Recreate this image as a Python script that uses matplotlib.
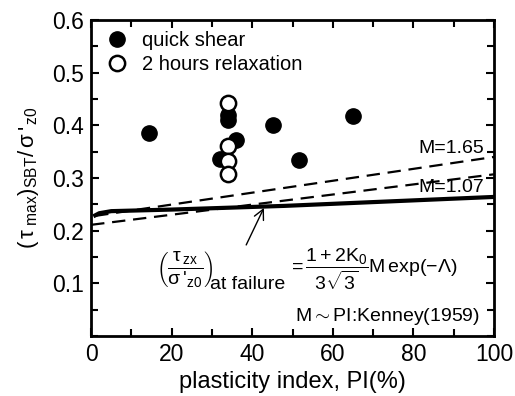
import numpy as np
from matplotlib import pyplot as plt
from matplotlib import rcParams
from matplotlib.ticker import MultipleLocator

rcParams["font.family"] = ["Liberation Sans", "DejaVu Sans"]
rcParams["mathtext.fontset"] = "custom"
rcParams["mathtext.rm"] = "Liberation Sans"
rcParams["mathtext.it"] = "Liberation Sans"
rcParams["mathtext.bf"] = "Liberation Sans:bold"
rcParams["mathtext.sf"] = "Liberation Sans"

# measured strength ratios against plasticity index
pi_quick = [14.4, 34.0, 34.0, 36.0, 32.0, 45.2, 51.6, 65.0]
tau_quick = [0.385, 0.420, 0.410, 0.373, 0.337, 0.400, 0.334, 0.417]

pi_relax = [34.0, 34.0, 34.0, 34.0]
tau_relax = [0.443, 0.360, 0.333, 0.307]

# predicted curves (M from Kenney 1959)
pi_m165 = [1, 100]
tau_m165 = [0.228, 0.340]
pi_m107 = [0, 100]
tau_m107 = [0.211, 0.307]
pi_pred = [1, 2, 5, 20, 48, 100]
tau_pred = [0.229, 0.233, 0.237, 0.240, 0.247, 0.264]

fig = plt.figure(figsize=(5.15, 3.96), dpi=100)
ax = fig.add_axes([0.177, 0.152, 0.782, 0.797])

ax.plot(pi_m165, tau_m165, "k--", lw=1.6, dashes=(6, 3.5))
ax.plot(pi_m107, tau_m107, "k--", lw=1.6, dashes=(6, 3.5))
ax.plot(pi_pred, tau_pred, "k-", lw=3)

ax.plot(pi_quick, tau_quick, "o", color="k", ms=11, label="quick shear")
ax.plot(pi_relax, tau_relax, "o", mfc="white", mec="k", mew=1.8, ms=11,
        label="2 hours relaxation")

ax.text(97.5, 0.357, "M=1.65", ha="right", va="center", fontsize=14)
ax.text(97.5, 0.282, "M=1.07", ha="right", va="center", fontsize=14)

ax.annotate("", xy=(43.2, 0.248), xytext=(38.2, 0.168),
            arrowprops=dict(arrowstyle="->", color="k", lw=1.0,
                            mutation_scale=18))

# failure criterion written in three pieces so "at failure" stays full size
ax.text(16.2, 0.127,
        r"$\left(\dfrac{\tau_{\,zx}}{\sigma\,'_{z0}}\right)$",
        ha="left", va="center", fontsize=14)
ax.text(29.5, 0.098, "at failure", ha="left", va="center", fontsize=14)
ax.text(49.0, 0.127,
        r"$=\dfrac{1+2K_0}{3\sqrt{3}}M\,\exp(-\Lambda)$",
        ha="left", va="center", fontsize=14)
ax.text(96.5, 0.036, r"M$\sim$PI:Kenney(1959)", ha="right", va="center",
        fontsize=14)

ax.legend(loc="upper left", frameon=False, fontsize=14.5, handletextpad=0.7,
          bbox_to_anchor=(0.025, 0.985), borderaxespad=0.0,
          labelspacing=0.25, handlelength=1.0, borderpad=0.3)

ax.set_xlim(0, 100)
ax.set_ylim(0, 0.6)
ax.xaxis.set_major_locator(MultipleLocator(20))
ax.xaxis.set_minor_locator(MultipleLocator(10))
ax.yaxis.set_major_locator(MultipleLocator(0.1))
ax.yaxis.set_minor_locator(MultipleLocator(0.05))
ax.set_yticks([0.1, 0.2, 0.3, 0.4, 0.5, 0.6])
ax.set_yticklabels(["0.1", "0.2", "0.3", "0.4", "0.5", "0.6"])
ax.tick_params(which="both", direction="in", top=True, right=True,
               width=1.5, labelsize=16.5)
ax.tick_params(which="major", length=6, pad=5)
ax.tick_params(which="minor", length=5)
for s in ax.spines.values():
    s.set_linewidth(2)

ax.set_xlabel("plasticity index, PI(%)", fontsize=17, labelpad=4)
ax.set_ylabel(r"$(\,\tau_{\ \rm max})_{\rm SBT}/\,\sigma\,'_{\,z0}$", fontsize=16,
              labelpad=8)

plt.savefig("out.png", dpi=100)
